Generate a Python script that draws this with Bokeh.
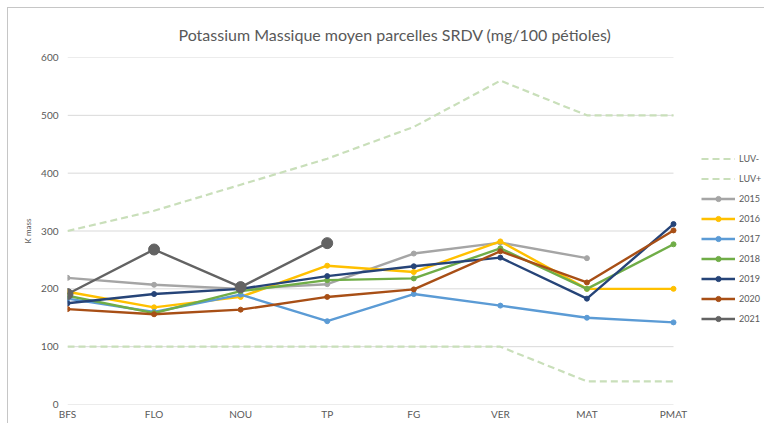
import math
from bokeh.plotting import figure
from bokeh.models import (ColumnDataSource, Legend, LegendItem, FixedTicker,
                          Range1d, Title)
from bokeh.embed import file_html
from bokeh.resources import INLINE

# ---------------- data ----------------
categories = ["BFS", "FLO", "NOU", "TP", "FG", "VER", "MAT", "PMAT"]
luv_minus = [100, 100, 100, 100, 100, 100, 40, 40]
luv_plus = [300, 335, 380, 425, 480, 560, 500, 500]
nan = float("nan")
s2015 = [219, 207, 200, 208, 261, 280, 253, nan]
s2016 = [195, 168, 186, 240, 229, 282, 200, 200]
s2017 = [183, 160, 190, 144, 191, 171, 150, 142]
s2018 = [188, 158, 196, 215, 218, 270, 200, 277]
s2019 = [175, 191, 200, 222, 239, 254, 183, 312]
s2020 = [165, 156, 164, 186, 199, 265, 211, 301]
s2021 = [191, 268, 203, 279, nan, nan, nan, nan]
y_ticks = [0, 100, 200, 300, 400, 500, 600]

title_text = "Potassium Massique moyen parcelles SRDV (mg/100 pétioles)"
y_label = "K mass"

FONT = "Lato"
TXT = "#595959"

# layout (pixels)
W, H = 757, 416
LEFT, TOP, BOTTOM = 59, 49, 20
PLOT_W = 606            # width used by the categories
FRAME_W = W - LEFT      # frame extends under the legend area

n = len(categories)
p = figure(width=W, height=H, output_backend="svg", toolbar_location=None,
           min_border_left=LEFT, min_border_right=0, min_border_top=TOP,
           min_border_bottom=BOTTOM)
p.x_range = Range1d(0, (n - 1) * FRAME_W / PLOT_W)
p.y_range = Range1d(min(y_ticks), max(y_ticks))
p.outline_line_color = None
p.background_fill_color = "white"
p.border_fill_color = "white"
p.styles = {"margin-left": "7px", "margin-top": "7px",
            "border-top": "1px solid #c6c6c6", "border-left": "1px solid #c6c6c6"}

t = Title(text=title_text, align="left", offset=111, text_font=FONT,
          text_font_size="16px", text_font_style="normal", text_color=TXT,
          standoff=27)
p.add_layout(t, "above")

# axes
p.xaxis.ticker = FixedTicker(ticks=list(range(n)))
p.xaxis.major_label_overrides = {i: c for i, c in enumerate(categories)}
p.yaxis.ticker = FixedTicker(ticks=y_ticks)
for ax in (p.xaxis, p.yaxis):
    ax.axis_line_color = None
    ax.major_tick_line_color = None
    ax.minor_tick_line_color = None
    ax.major_tick_out = 0
    ax.major_tick_in = 0
    ax.minor_tick_out = 0
    ax.minor_tick_in = 0
    ax.major_label_text_font = FONT
    ax.major_label_text_font_size = "10px"
    ax.major_label_text_color = TXT
p.xaxis.major_label_standoff = 3
p.yaxis.major_label_standoff = 9
p.yaxis.axis_label = y_label
p.yaxis.axis_label_text_font = FONT
p.yaxis.axis_label_text_font_size = "8px"
p.yaxis.axis_label_text_font_style = "normal"
p.yaxis.axis_label_text_color = TXT
p.yaxis.axis_label_standoff = 5

# horizontal gridlines spanning the category area only
p.xgrid.grid_line_color = None
p.ygrid.grid_line_color = None
p.segment(x0=[0] * len(y_ticks), x1=[n - 1] * len(y_ticks),
          y0=y_ticks, y1=y_ticks, line_color="#d9d9d9", line_width=1)

x = list(range(n))

items = []
luv_col = "#c9dfba"
for name, vals in (("LUV-", luv_minus), ("LUV+", luv_plus)):
    src = ColumnDataSource(dict(x=x, y=vals))
    r = p.line("x", "y", source=src, line_color=luv_col, line_width=2.2,
               line_dash="7 4")
    items.append(LegendItem(label=name, renderers=[r]))

series = [
    ("2015", s2015, "#a5a5a5", 5),
    ("2016", s2016, "#ffc000", 5),
    ("2017", s2017, "#5b9bd5", 5),
    ("2018", s2018, "#70ad47", 5),
    ("2019", s2019, "#264478", 5),
    ("2020", s2020, "#a84f16", 5),
    ("2021", s2021, "#636363", 11),
]
for name, vals, col, ms in series:
    src = ColumnDataSource(dict(x=x, y=vals))
    rl = p.line("x", "y", source=src, line_color=col, line_width=2.4)
    rs = p.scatter("x", "y", source=src, marker="circle", size=ms,
                   fill_color=col, line_color=col)
    items.append(LegendItem(label=name, renderers=[rl, rs]))

legend = Legend(items=items, location=(634, 76), orientation="vertical",
                glyph_width=34, glyph_height=13, label_height=20, spacing=0,
                padding=0, margin=0, label_standoff=4,
                label_text_font=FONT, label_text_font_size="9px",
                label_text_color=TXT, border_line_color=None,
                background_fill_alpha=0)
p.add_layout(legend, "center")

open("out.html", "w").write(file_html(p, INLINE))
